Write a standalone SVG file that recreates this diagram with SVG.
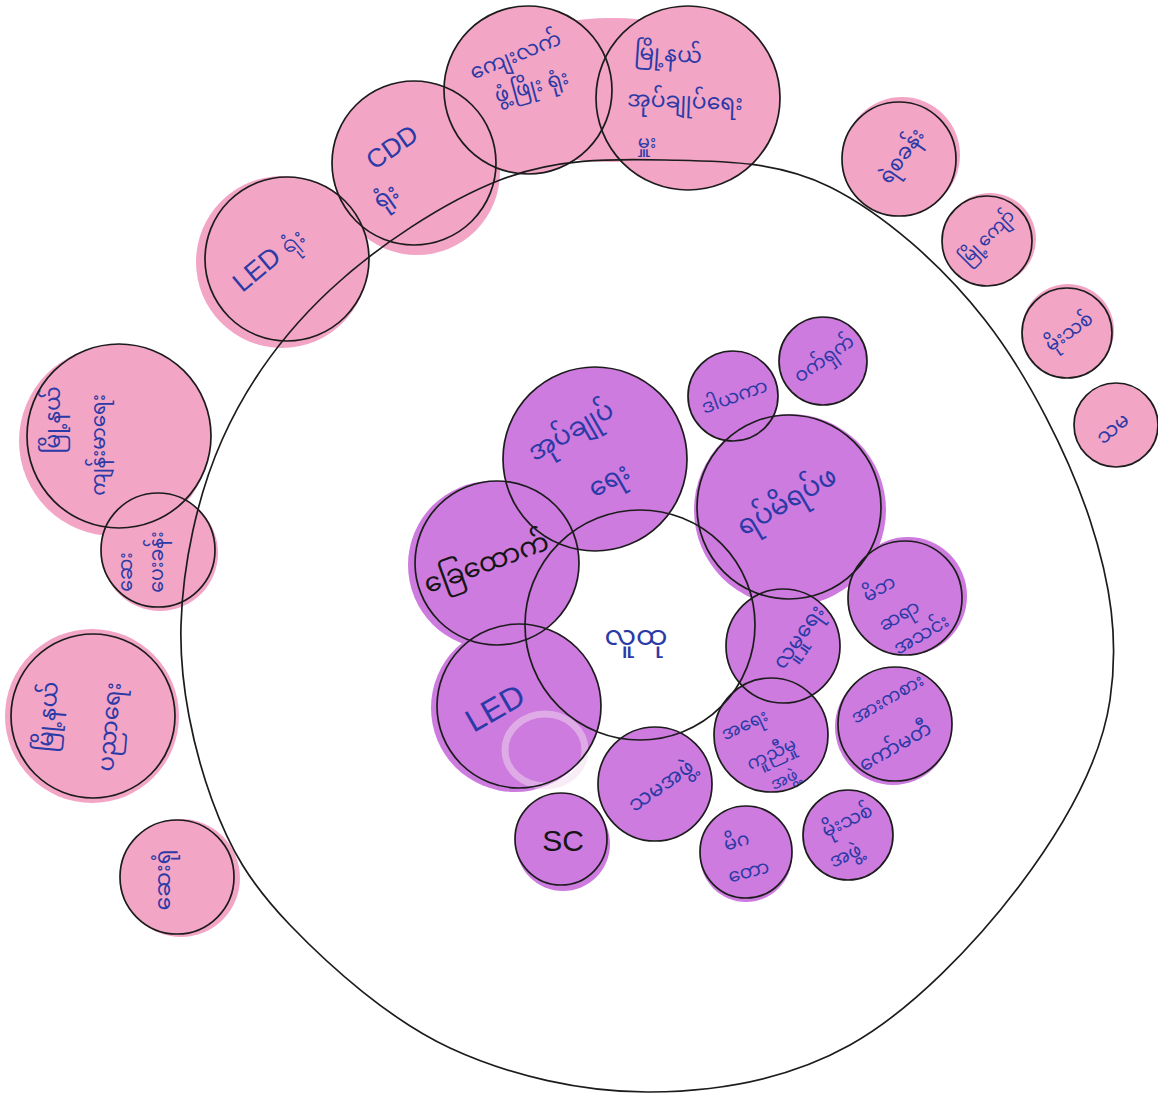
<svg xmlns="http://www.w3.org/2000/svg" width="1158" height="1094" viewBox="0 0 1158 1094">
<style>
.pk{fill:#f3a5c5}
.pu{fill:#cd7bdf}
.ol{fill:none;stroke:#1c1c1c;stroke-width:1.7}
.t{font-family:"Noto Sans Myanmar","Padauk","Myanmar Text","Noto Sans",sans-serif;fill:#2b3aa6;text-anchor:middle;dominant-baseline:central}
.k{fill:#151515}
.l{font-family:"Liberation Sans",sans-serif}
</style>
<rect width="1158" height="1094" fill="#ffffff"/>
<g id="marker-bleed">
<circle class="pk" cx="282" cy="262" r="86"/>
<circle class="pk" cx="417" cy="172" r="83"/>
<ellipse class="pk" cx="612" cy="90" rx="150" ry="72"/>
<circle class="pk" cx="114" cy="441" r="95"/>
<circle class="pk" cx="160" cy="553" r="58"/>
<circle class="pk" cx="92" cy="716" r="87"/>
<circle class="pk" cx="181" cy="878" r="59"/>
<circle class="pk" cx="902" cy="155" r="58"/>
<circle class="pk" cx="990" cy="239" r="46"/>
<circle class="pk" cx="1068" cy="330" r="46"/>
<circle class="pu" cx="790" cy="510" r="96"/>
<circle class="pu" cx="492" cy="565" r="84"/>
<circle class="pu" cx="515" cy="708" r="84"/>
<circle class="pu" cx="563" cy="844" r="47"/>
<circle class="pu" cx="908" cy="596" r="59"/>
<circle class="pu" cx="893" cy="727" r="58"/>
<circle class="pu" cx="746" cy="856" r="46"/>
</g>
<g id="outer-nodes">
<g id="n-led-office"><circle class="pk" cx="287" cy="259" r="82"/><text class="t l" font-size="27" transform="translate(268,260) rotate(-40)">LED ရုံး</text></g>
<g id="n-cdd-office"><circle class="pk" cx="414" cy="163" r="82"/><text class="t l" font-size="26" transform="translate(392,147) rotate(-35)">CDD</text><text class="t" font-size="24" transform="translate(387,198) rotate(-35)">ရုံး</text></g>
<g id="n-rural-dev"><circle class="pk" cx="528" cy="90" r="84"/><text class="t" font-size="21" transform="translate(516,57) rotate(-22)">ကျေးလက်</text><text class="t" font-size="21" transform="translate(532,88) rotate(-15)">ဖွံ့ဖြိုး ရုံး</text></g>
<g id="n-township-admin"><circle class="pk" cx="688" cy="98" r="92"/><text class="t" font-size="22" transform="translate(668,56) rotate(4)">မြို့နယ်</text><text class="t" font-size="22" transform="translate(685,103) rotate(2)">အုပ်ချုပ်ရေး</text><text class="t" font-size="18" transform="translate(647,143)">မှူး</text></g>
<g id="n-police"><circle class="pk" cx="899" cy="159" r="57"/><text class="t" font-size="21" transform="translate(903,157) rotate(-55)">ရဲစခန်း</text></g>
<g id="n-myokyaw"><circle class="pk" cx="987" cy="241" r="45"/><text class="t" font-size="18" transform="translate(988,238) rotate(-45)">မြို့ကျော်</text></g>
<g id="n-moethit"><circle class="pk" cx="1067" cy="333" r="45"/><text class="t" font-size="19" transform="translate(1070,333) rotate(-35)">မိုးသစ်</text></g>
<g id="n-thama"><circle class="pk" cx="1116" cy="425" r="42"/><text class="t" font-size="20" transform="translate(1114,430) rotate(-40)">သမ</text></g>
<g id="n-township-health"><circle class="pk" cx="119" cy="436" r="92"/><text class="t" font-size="22" transform="translate(55,420) rotate(-90)">မြို့နယ်</text><text class="t" font-size="20" transform="translate(100,445) rotate(-90)">ကျန်းမာရေး</text></g>
<g id="n-dispensary"><circle class="pk" cx="158" cy="550" r="57"/><text class="t" font-size="19" transform="translate(127,572) rotate(-90)">ဆေး</text><text class="t" font-size="19" transform="translate(158,562) rotate(-90)">ပေးခန်း</text></g>
<g id="n-township-edu"><circle class="pk" cx="93" cy="716" r="82"/><text class="t" font-size="23" transform="translate(50,717) rotate(-85)">မြို့နယ်</text><text class="t" font-size="23" transform="translate(112,727) rotate(-85)">ပညာရေး</text></g>
<g id="n-hospital"><circle class="pk" cx="177" cy="877" r="57"/><text class="t" font-size="22" transform="translate(165,880) rotate(-90)">ဆေးရုံ</text></g>
</g>
<g id="inner-nodes">
<g id="n-admin"><circle class="pu" cx="595" cy="459" r="92"/><text class="t" font-size="26" transform="translate(572,433) rotate(-30)">အုပ်ချုပ်</text><text class="t" font-size="26" transform="translate(610,482) rotate(-30)">ရေး</text></g>
<g id="n-dayaka"><circle class="pu" cx="733" cy="396" r="45"/><text class="t" font-size="19" transform="translate(735,398) rotate(-20)">ဒါယကာ</text></g>
<g id="n-wetshet"><circle class="pu" cx="823" cy="361" r="44"/><text class="t" font-size="19" transform="translate(825,360) rotate(-35)">ဝက်ရှက်</text></g>
<g id="n-elders"><circle class="pu" cx="789" cy="507" r="92"/><text class="t" font-size="27" transform="translate(788,503) rotate(-30)">ရပ်မိရပ်ဖ</text></g>
<g id="n-khyethauk"><circle class="pu" cx="497" cy="563" r="82"/><text class="t k" font-size="27" transform="translate(487,565) rotate(-20)">ခြေထောက်</text></g>
<g id="n-led"><circle class="pu" cx="519" cy="706" r="82"/><ellipse cx="545" cy="750" rx="40" ry="36" fill="none" stroke="#f1dcef" stroke-opacity="0.5" stroke-width="7"/><text class="t l" font-size="32" transform="translate(495,708) rotate(-30)">LED</text></g>
<g id="n-social"><circle class="pu" cx="783" cy="646" r="57"/><text class="t" font-size="21" transform="translate(800,638) rotate(-55)">လူမှုရေး</text></g>
<g id="n-pta"><circle class="pu" cx="905" cy="598" r="57"/><text class="t" font-size="19" transform="translate(880,590) rotate(-30)">မိဘ</text><text class="t" font-size="19" transform="translate(900,617) rotate(-30)">ဆရာ</text><text class="t" font-size="19" transform="translate(922,636) rotate(-30)">အသင်း</text></g>
<g id="n-emergency"><circle class="pu" cx="771" cy="735" r="57"/><text class="t" font-size="18" transform="translate(745,726) rotate(-25)">အရေး</text><text class="t" font-size="18" transform="translate(772,755) rotate(-25)">ကူညီမှု</text><text class="t" font-size="16" transform="translate(785,781) rotate(-25)">အဖွဲ့</text></g>
<g id="n-sports"><circle class="pu" cx="895" cy="724" r="57"/><text class="t" font-size="18" transform="translate(888,700) rotate(-30)">အားကစား</text><text class="t" font-size="20" transform="translate(896,748) rotate(-30)">ကော်မတီ</text></g>
<g id="n-sc"><circle class="pu" cx="561" cy="839" r="46"/><text class="t k l" font-size="30" x="563" y="840">SC</text></g>
<g id="n-thama-group"><circle class="pu" cx="655" cy="784" r="57"/><text class="t" font-size="21" transform="translate(662,787) rotate(-35)">သမအဖွဲ့</text></g>
<g id="n-migataw"><circle class="pu" cx="746" cy="852" r="46"/><text class="t" font-size="19" transform="translate(737,843) rotate(-15)">မိဂ</text><text class="t" font-size="19" transform="translate(749,873) rotate(-15)">တော</text></g>
<g id="n-moethit-group"><circle class="pu" cx="848" cy="835" r="45"/><text class="t" font-size="19" transform="translate(848,822) rotate(-25)">မိုးသစ်</text><text class="t" font-size="19" transform="translate(846,857) rotate(-25)">အဖွဲ့</text></g>
<g id="n-community"><circle cx="640" cy="625" r="115" fill="none"/><text class="t" font-size="28" x="636" y="638">လူထု</text></g>
</g>
<g id="connectors">
<path class="ol" d="M181,625 C182.7,565 197.2,495.8 222,440 C246.8,384.2 283.7,333.3 330,290 C376.3,246.7 444.2,201.7 500,180 C555.8,158.3 610,158.8 665,160 C720,161.2 776.7,160.3 830,187 C883.3,213.7 941.7,264.5 985,320 C1028.3,375.5 1069.2,456.7 1090,520 C1110.8,583.3 1119,639.2 1110,700 C1101,760.8 1063.3,827.5 1020,885 C976.7,942.5 911.7,1010.5 850,1045 C788.3,1079.5 716.7,1091.5 650,1092 C583.3,1092.5 510,1075.8 450,1048 C390,1020.2 329.7,966.3 290,925 C250.3,883.7 230.2,850 212,800 C193.8,750 179.3,685 181,625 Z"/>
<circle class="ol" cx="287" cy="259" r="82"/><circle class="ol" cx="414" cy="163" r="82"/><circle class="ol" cx="528" cy="90" r="84"/><circle class="ol" cx="688" cy="98" r="92"/>
<circle class="ol" cx="899" cy="159" r="57"/><circle class="ol" cx="987" cy="241" r="45"/><circle class="ol" cx="1067" cy="333" r="45"/><circle class="ol" cx="1116" cy="425" r="42"/>
<circle class="ol" cx="119" cy="436" r="92"/><circle class="ol" cx="158" cy="550" r="57"/><circle class="ol" cx="93" cy="716" r="82"/><circle class="ol" cx="177" cy="877" r="57"/>
<circle class="ol" cx="595" cy="459" r="92"/><circle class="ol" cx="733" cy="396" r="45"/><circle class="ol" cx="823" cy="361" r="44"/><circle class="ol" cx="789" cy="507" r="92"/>
<circle class="ol" cx="497" cy="563" r="82"/><circle class="ol" cx="519" cy="706" r="82"/><circle class="ol" cx="783" cy="646" r="57"/><circle class="ol" cx="905" cy="598" r="57"/>
<circle class="ol" cx="771" cy="735" r="57"/><circle class="ol" cx="895" cy="724" r="57"/><circle class="ol" cx="561" cy="839" r="46"/><circle class="ol" cx="655" cy="784" r="57"/>
<circle class="ol" cx="746" cy="852" r="46"/><circle class="ol" cx="848" cy="835" r="45"/><circle class="ol" cx="640" cy="625" r="115"/>
</g>
</svg>
